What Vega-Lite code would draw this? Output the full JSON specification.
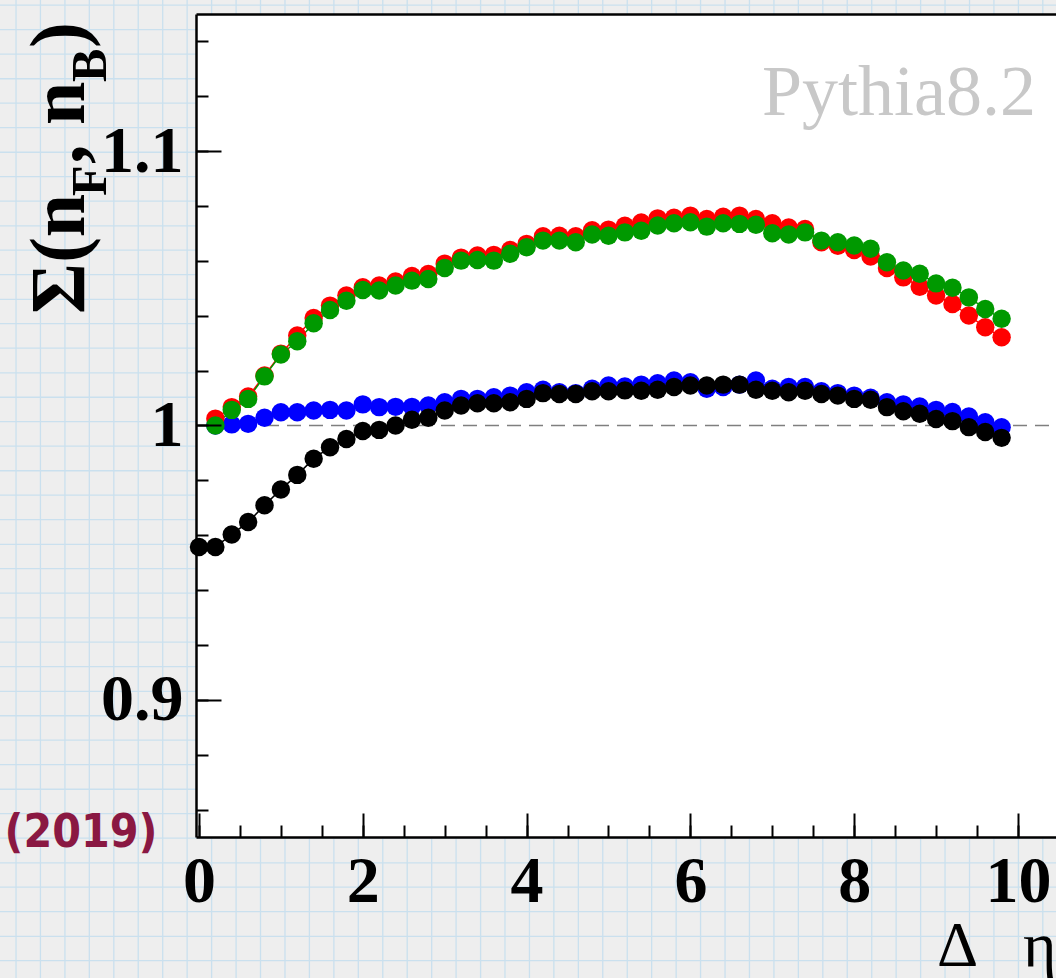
{
  "$schema": "https://vega.github.io/schema/vega-lite/v6.json",
  "width": 860,
  "height": 823,
  "autosize": {"type": "none"},
  "padding": {"left": 196, "top": 14, "right": 0, "bottom": 141},
  "background": "#eeeeee",
  "config": {"view": {"stroke": null}, "axis": {"grid": false}},
  "data": {"values": [{}]},
  "datasets": {
    "vlines": [{"gx":-2.234},{"gx":-1.936},{"gx":-1.637},{"gx":-1.339},{"gx":-1.040},{"gx":-0.742},{"gx":-0.443},{"gx":-0.145},{"gx":0.154},{"gx":0.453},{"gx":0.751},{"gx":1.050},{"gx":1.348},{"gx":1.647},{"gx":1.945},{"gx":2.244},{"gx":2.542},{"gx":2.841},{"gx":3.139},{"gx":3.438},{"gx":3.736},{"gx":4.035},{"gx":4.333},{"gx":4.632},{"gx":4.930},{"gx":5.229},{"gx":5.527},{"gx":5.826},{"gx":6.124},{"gx":6.423},{"gx":6.721},{"gx":7.020},{"gx":7.318},{"gx":7.617},{"gx":7.915},{"gx":8.214},{"gx":8.512},{"gx":8.811},{"gx":9.109},{"gx":9.408},{"gx":9.706},{"gx":10.005},{"gx":10.303}],
    "hlines": [{"gy":1.1532},{"gy":1.1443},{"gy":1.1354},{"gy":1.1264},{"gy":1.1175},{"gy":1.1086},{"gy":1.0996},{"gy":1.0907},{"gy":1.0818},{"gy":1.0728},{"gy":1.0639},{"gy":1.0550},{"gy":1.0460},{"gy":1.0371},{"gy":1.0282},{"gy":1.0192},{"gy":1.0103},{"gy":1.0014},{"gy":0.9925},{"gy":0.9835},{"gy":0.9746},{"gy":0.9657},{"gy":0.9567},{"gy":0.9478},{"gy":0.9389},{"gy":0.9299},{"gy":0.9210},{"gy":0.9121},{"gy":0.9031},{"gy":0.8942},{"gy":0.8853},{"gy":0.8764},{"gy":0.8674},{"gy":0.8585},{"gy":0.8496},{"gy":0.8406},{"gy":0.8317},{"gy":0.8228},{"gy":0.8138},{"gy":0.8049}],
    "obs": [
      {"s":"blue","x":0.2,"v":1.0000},{"s":"blue","x":0.4,"v":1.0004},{"s":"blue","x":0.6,"v":1.0006},{"s":"blue","x":0.8,"v":1.0028},{"s":"blue","x":1.0,"v":1.0048},{"s":"blue","x":1.2,"v":1.0048},{"s":"blue","x":1.4,"v":1.0055},{"s":"blue","x":1.6,"v":1.0057},{"s":"blue","x":1.8,"v":1.0055},{"s":"blue","x":2.0,"v":1.0077},{"s":"blue","x":2.2,"v":1.0067},{"s":"blue","x":2.4,"v":1.0068},{"s":"blue","x":2.6,"v":1.0068},{"s":"blue","x":2.8,"v":1.0073},{"s":"blue","x":3.0,"v":1.0085},{"s":"blue","x":3.2,"v":1.0097},{"s":"blue","x":3.4,"v":1.0097},{"s":"blue","x":3.6,"v":1.0103},{"s":"blue","x":3.8,"v":1.0109},{"s":"blue","x":4.0,"v":1.0121},{"s":"blue","x":4.2,"v":1.0130},{"s":"blue","x":4.4,"v":1.0121},{"s":"blue","x":4.6,"v":1.0118},{"s":"blue","x":4.8,"v":1.0134},{"s":"blue","x":5.0,"v":1.0146},{"s":"blue","x":5.2,"v":1.0142},{"s":"blue","x":5.4,"v":1.0149},{"s":"blue","x":5.6,"v":1.0154},{"s":"blue","x":5.8,"v":1.0164},{"s":"blue","x":6.0,"v":1.0158},{"s":"blue","x":6.2,"v":1.0134},{"s":"blue","x":6.4,"v":1.0140},{"s":"blue","x":6.6,"v":1.0149},{"s":"blue","x":6.8,"v":1.0164},{"s":"blue","x":7.0,"v":1.0134},{"s":"blue","x":7.2,"v":1.0140},{"s":"blue","x":7.4,"v":1.0140},{"s":"blue","x":7.6,"v":1.0125},{"s":"blue","x":7.8,"v":1.0118},{"s":"blue","x":8.0,"v":1.0109},{"s":"blue","x":8.2,"v":1.0101},{"s":"blue","x":8.4,"v":1.0085},{"s":"blue","x":8.6,"v":1.0077},{"s":"blue","x":8.8,"v":1.0069},{"s":"blue","x":9.0,"v":1.0057},{"s":"blue","x":9.2,"v":1.0049},{"s":"blue","x":9.4,"v":1.0033},{"s":"blue","x":9.6,"v":1.0012},{"s":"blue","x":9.8,"v":0.9994},
      {"s":"red","x":0.2,"v":1.0025},{"s":"red","x":0.4,"v":1.0067},{"s":"red","x":0.6,"v":1.0106},{"s":"red","x":0.8,"v":1.0182},{"s":"red","x":1.0,"v":1.0262},{"s":"red","x":1.2,"v":1.0328},{"s":"red","x":1.4,"v":1.0392},{"s":"red","x":1.6,"v":1.0437},{"s":"red","x":1.8,"v":1.0474},{"s":"red","x":2.0,"v":1.0504},{"s":"red","x":2.2,"v":1.0510},{"s":"red","x":2.4,"v":1.0525},{"s":"red","x":2.6,"v":1.0545},{"s":"red","x":2.8,"v":1.0552},{"s":"red","x":3.0,"v":1.0590},{"s":"red","x":3.2,"v":1.0612},{"s":"red","x":3.4,"v":1.0620},{"s":"red","x":3.6,"v":1.0622},{"s":"red","x":3.8,"v":1.0640},{"s":"red","x":4.0,"v":1.0662},{"s":"red","x":4.2,"v":1.0690},{"s":"red","x":4.4,"v":1.0692},{"s":"red","x":4.6,"v":1.0690},{"s":"red","x":4.8,"v":1.0712},{"s":"red","x":5.0,"v":1.0714},{"s":"red","x":5.2,"v":1.0728},{"s":"red","x":5.4,"v":1.0740},{"s":"red","x":5.6,"v":1.0755},{"s":"red","x":5.8,"v":1.0757},{"s":"red","x":6.0,"v":1.0765},{"s":"red","x":6.2,"v":1.0753},{"s":"red","x":6.4,"v":1.0761},{"s":"red","x":6.6,"v":1.0765},{"s":"red","x":6.8,"v":1.0753},{"s":"red","x":7.0,"v":1.0737},{"s":"red","x":7.2,"v":1.0722},{"s":"red","x":7.4,"v":1.0716},{"s":"red","x":7.6,"v":1.0668},{"s":"red","x":7.8,"v":1.0655},{"s":"red","x":8.0,"v":1.0640},{"s":"red","x":8.2,"v":1.0616},{"s":"red","x":8.4,"v":1.0574},{"s":"red","x":8.6,"v":1.0540},{"s":"red","x":8.8,"v":1.0506},{"s":"red","x":9.0,"v":1.0474},{"s":"red","x":9.2,"v":1.0443},{"s":"red","x":9.4,"v":1.0401},{"s":"red","x":9.6,"v":1.0358},{"s":"red","x":9.8,"v":1.0322},
      {"s":"black","x":0.0,"v":0.9557},{"s":"black","x":0.2,"v":0.9557},{"s":"black","x":0.4,"v":0.9603},{"s":"black","x":0.6,"v":0.9648},{"s":"black","x":0.8,"v":0.9709},{"s":"black","x":1.0,"v":0.9767},{"s":"black","x":1.2,"v":0.9820},{"s":"black","x":1.4,"v":0.9879},{"s":"black","x":1.6,"v":0.9921},{"s":"black","x":1.8,"v":0.9951},{"s":"black","x":2.0,"v":0.9980},{"s":"black","x":2.2,"v":0.9984},{"s":"black","x":2.4,"v":1.0000},{"s":"black","x":2.6,"v":1.0021},{"s":"black","x":2.8,"v":1.0028},{"s":"black","x":3.0,"v":1.0055},{"s":"black","x":3.2,"v":1.0073},{"s":"black","x":3.4,"v":1.0081},{"s":"black","x":3.6,"v":1.0081},{"s":"black","x":3.8,"v":1.0085},{"s":"black","x":4.0,"v":1.0097},{"s":"black","x":4.2,"v":1.0118},{"s":"black","x":4.4,"v":1.0115},{"s":"black","x":4.6,"v":1.0115},{"s":"black","x":4.8,"v":1.0125},{"s":"black","x":5.0,"v":1.0125},{"s":"black","x":5.2,"v":1.0128},{"s":"black","x":5.4,"v":1.0127},{"s":"black","x":5.6,"v":1.0130},{"s":"black","x":5.8,"v":1.0140},{"s":"black","x":6.0,"v":1.0146},{"s":"black","x":6.2,"v":1.0146},{"s":"black","x":6.4,"v":1.0149},{"s":"black","x":6.6,"v":1.0149},{"s":"black","x":6.8,"v":1.0130},{"s":"black","x":7.0,"v":1.0127},{"s":"black","x":7.2,"v":1.0121},{"s":"black","x":7.4,"v":1.0127},{"s":"black","x":7.6,"v":1.0115},{"s":"black","x":7.8,"v":1.0109},{"s":"black","x":8.0,"v":1.0097},{"s":"black","x":8.2,"v":1.0094},{"s":"black","x":8.4,"v":1.0067},{"s":"black","x":8.6,"v":1.0052},{"s":"black","x":8.8,"v":1.0043},{"s":"black","x":9.0,"v":1.0024},{"s":"black","x":9.2,"v":1.0016},{"s":"black","x":9.4,"v":0.9994},{"s":"black","x":9.6,"v":0.9976},{"s":"black","x":9.8,"v":0.9955},
      {"s":"green","x":0.2,"v":1.0000},{"s":"green","x":0.4,"v":1.0057},{"s":"green","x":0.6,"v":1.0097},{"s":"green","x":0.8,"v":1.0179},{"s":"green","x":1.0,"v":1.0259},{"s":"green","x":1.2,"v":1.0307},{"s":"green","x":1.4,"v":1.0373},{"s":"green","x":1.6,"v":1.0421},{"s":"green","x":1.8,"v":1.0455},{"s":"green","x":2.0,"v":1.0494},{"s":"green","x":2.2,"v":1.0492},{"s":"green","x":2.4,"v":1.0510},{"s":"green","x":2.6,"v":1.0528},{"s":"green","x":2.8,"v":1.0534},{"s":"green","x":3.0,"v":1.0574},{"s":"green","x":3.2,"v":1.0601},{"s":"green","x":3.4,"v":1.0603},{"s":"green","x":3.6,"v":1.0601},{"s":"green","x":3.8,"v":1.0626},{"s":"green","x":4.0,"v":1.0650},{"s":"green","x":4.2,"v":1.0674},{"s":"green","x":4.4,"v":1.0674},{"s":"green","x":4.6,"v":1.0668},{"s":"green","x":4.8,"v":1.0696},{"s":"green","x":5.0,"v":1.0692},{"s":"green","x":5.2,"v":1.0704},{"s":"green","x":5.4,"v":1.0710},{"s":"green","x":5.6,"v":1.0729},{"s":"green","x":5.8,"v":1.0737},{"s":"green","x":6.0,"v":1.0741},{"s":"green","x":6.2,"v":1.0725},{"s":"green","x":6.4,"v":1.0737},{"s":"green","x":6.6,"v":1.0735},{"s":"green","x":6.8,"v":1.0732},{"s":"green","x":7.0,"v":1.0701},{"s":"green","x":7.2,"v":1.0696},{"s":"green","x":7.4,"v":1.0704},{"s":"green","x":7.6,"v":1.0674},{"s":"green","x":7.8,"v":1.0668},{"s":"green","x":8.0,"v":1.0656},{"s":"green","x":8.2,"v":1.0644},{"s":"green","x":8.4,"v":1.0595},{"s":"green","x":8.6,"v":1.0565},{"s":"green","x":8.8,"v":1.0553},{"s":"green","x":9.0,"v":1.0518},{"s":"green","x":9.2,"v":1.0502},{"s":"green","x":9.4,"v":1.0467},{"s":"green","x":9.6,"v":1.0425},{"s":"green","x":9.8,"v":1.0389}
    ]
  },
  "layer": [
    {
      "data": {"name": "vlines"},
      "mark": {"type": "rule", "color": "#cae0ee", "strokeWidth": 1.3},
      "encoding": {
        "x": {"field": "gx", "type": "quantitative", "axis": null, "scale": {"domain": [-0.0366, 10.464], "nice": false, "zero": false}},
        "y": {"datum": 0.7986, "type": "quantitative", "axis": null, "scale": {"domain": [0.85, 1.15], "nice": false, "zero": false}},
        "y2": {"datum": 1.1551}
      }
    },
    {
      "data": {"name": "hlines"},
      "mark": {"type": "rule", "color": "#cae0ee", "strokeWidth": 1.3},
      "encoding": {
        "y": {"field": "gy", "type": "quantitative", "axis": null, "scale": {"domain": [0.85, 1.15], "nice": false, "zero": false}},
        "x": {"datum": -2.43, "type": "quantitative", "axis": null, "scale": {"domain": [-0.0366, 10.464], "nice": false, "zero": false}},
        "x2": {"datum": 10.47}
      }
    },
    {
      "mark": {"type": "rect", "color": "#ffffff"},
      "encoding": {
        "x": {"datum": -0.0366, "type": "quantitative", "axis": null, "scale": {"domain": [-0.0366, 10.464], "nice": false, "zero": false}},
        "x2": {"datum": 10.464},
        "y": {"datum": 0.85, "type": "quantitative", "axis": null, "scale": {"domain": [0.85, 1.15], "nice": false, "zero": false}},
        "y2": {"datum": 1.15}
      }
    },
    {
      "mark": {"type": "rule", "color": "#7f7f7f", "strokeWidth": 1.5, "strokeDash": [14, 8]},
      "encoding": {
        "x": {"datum": 0, "type": "quantitative", "scale": {"domain": [-0.0366, 10.464], "nice": false, "zero": false},
          "axis": {"orient": "bottom", "values": [0,0.5,1,1.5,2,2.5,3,3.5,4,4.5,5,5.5,6,6.5,7,7.5,8,8.5,9,9.5,10], "tickSize": -12, "tickWidth": 2, "tickColor": "#000000", "labels": false, "domain": false, "title": null, "zindex": 1}},
        "x2": {"datum": 10.464},
        "y": {"datum": 1, "type": "quantitative", "scale": {"domain": [0.85, 1.15], "nice": false, "zero": false},
          "axis": {"orient": "left", "values": [0.86,0.88,0.9,0.92,0.94,0.96,0.98,1,1.02,1.04,1.06,1.08,1.1,1.12,1.14], "tickSize": -12, "tickWidth": 2, "tickColor": "#000000", "labels": false, "domain": false, "title": null, "zindex": 1}}
      }
    },
    {
      "data": {"name": "obs"},
      "mark": {"type": "line", "strokeWidth": 1.5},
      "encoding": {
        "x": {"field": "x", "type": "quantitative", "scale": {"domain": [-0.0366, 10.464], "nice": false, "zero": false},
          "axis": {"orient": "bottom", "values": [0,2,4,6,8,10], "tickSize": -24, "tickWidth": 2, "tickColor": "#000000", "labels": false, "domain": false, "title": null, "zindex": 1}},
        "y": {"field": "v", "type": "quantitative", "scale": {"domain": [0.85, 1.15], "nice": false, "zero": false},
          "axis": {"orient": "left", "values": [0.9,1,1.1], "tickSize": -25, "tickWidth": 2, "tickColor": "#000000", "labels": false, "domain": false, "title": null, "zindex": 1}},
        "color": {"field": "s", "type": "nominal", "legend": null, "scale": {"domain": ["blue","red","black","green"], "range": ["#0000ff","#ff0000","#000000","#009900"]}}
      }
    },
    {
      "data": {"name": "obs"},
      "mark": {"type": "circle", "size": 340, "opacity": 1},
      "encoding": {
        "x": {"field": "x", "type": "quantitative", "scale": {"domain": [-0.0366, 10.464], "nice": false, "zero": false},
          "axis": {"orient": "bottom", "values": [0,2,4,6,8,10], "ticks": false, "domain": true, "domainColor": "#000000", "domainWidth": 2.5,
            "labelFont": "Liberation Serif", "labelFontWeight": "bold", "labelFontSize": 66, "labelColor": "#000000", "labelPadding": 12, "labelFlush": false, "labelOverlap": false, "labelBound": false,
            "title": "Δ\u00a0\u2009\u00a0η", "titleFont": "Liberation Serif", "titleFontWeight": "normal", "titleFontSize": 64, "titleColor": "#000000", "titleAnchor": "end", "titleAlign": "right", "titleBaseline": "alphabetic", "titleX": 860, "titleY": 128, "titleAngle": 0, "zindex": 1}},
        "y": {"field": "v", "type": "quantitative", "scale": {"domain": [0.85, 1.15], "nice": false, "zero": false},
          "axis": {"orient": "left", "values": [0.9,1,1.1], "format": "~g", "ticks": false, "domain": true, "domainColor": "#000000", "domainWidth": 2.5,
            "labelFont": "Liberation Serif", "labelFontWeight": "bold", "labelFontSize": 66, "labelColor": "#000000", "labelPadding": 13, "labelFlush": false, "labelOverlap": false, "labelBound": false, "title": null, "zindex": 1}},
        "color": {"field": "s", "type": "nominal", "legend": null, "scale": {"domain": ["blue","red","black","green"], "range": ["#0000ff","#ff0000","#000000","#009900"]}}
      }
    },
    {
      "mark": {"type": "text", "text": "Pythia8.2", "font": "Liberation Serif", "fontSize": 72, "color": "#c8c8c8", "align": "left", "baseline": "alphabetic"},
      "encoding": {
        "x": {"datum": 6.874, "type": "quantitative", "scale": {"domain": [-0.0366, 10.464], "nice": false, "zero": false},
          "axis": {"orient": "top", "ticks": false, "labels": false, "domain": true, "domainColor": "#000000", "domainWidth": 2.5, "title": null, "zindex": 1}},
        "y": {"datum": 1.1132, "type": "quantitative", "axis": null, "scale": {"domain": [0.85, 1.15], "nice": false, "zero": false}}
      }
    },
    {
      "mark": {"type": "text", "text": "Σ(n", "font": "Liberation Serif", "fontWeight": "bold", "fontSize": 78, "color": "#000000", "align": "left", "baseline": "alphabetic", "angle": 270},
      "encoding": {
        "x": {"datum": -1.404, "type": "quantitative", "axis": null, "scale": {"domain": [-0.0366, 10.464], "nice": false, "zero": false}},
        "y": {"datum": 1.0406, "type": "quantitative", "axis": null, "scale": {"domain": [0.85, 1.15], "nice": false, "zero": false}}
      }
    },
    {
      "mark": {"type": "text", "text": "F", "font": "Liberation Serif", "fontWeight": "bold", "fontSize": 50, "color": "#000000", "align": "left", "baseline": "alphabetic", "angle": 270},
      "encoding": {
        "x": {"datum": -1.136, "type": "quantitative", "axis": null, "scale": {"domain": [-0.0366, 10.464], "nice": false, "zero": false}},
        "y": {"datum": 1.0837, "type": "quantitative", "axis": null, "scale": {"domain": [0.85, 1.15], "nice": false, "zero": false}}
      }
    },
    {
      "mark": {"type": "text", "text": ", n", "font": "Liberation Serif", "fontWeight": "bold", "fontSize": 78, "color": "#000000", "align": "left", "baseline": "alphabetic", "angle": 270},
      "encoding": {
        "x": {"datum": -1.404, "type": "quantitative", "axis": null, "scale": {"domain": [-0.0366, 10.464], "nice": false, "zero": false}},
        "y": {"datum": 1.0953, "type": "quantitative", "axis": null, "scale": {"domain": [0.85, 1.15], "nice": false, "zero": false}}
      }
    },
    {
      "mark": {"type": "text", "text": "B", "font": "Liberation Serif", "fontWeight": "bold", "fontSize": 50, "color": "#000000", "align": "left", "baseline": "alphabetic", "angle": 270},
      "encoding": {
        "x": {"datum": -1.136, "type": "quantitative", "axis": null, "scale": {"domain": [-0.0366, 10.464], "nice": false, "zero": false}},
        "y": {"datum": 1.1252, "type": "quantitative", "axis": null, "scale": {"domain": [0.85, 1.15], "nice": false, "zero": false}}
      }
    },
    {
      "mark": {"type": "text", "text": ")", "font": "Liberation Serif", "fontWeight": "bold", "fontSize": 78, "color": "#000000", "align": "left", "baseline": "alphabetic", "angle": 270},
      "encoding": {
        "x": {"datum": -1.404, "type": "quantitative", "axis": null, "scale": {"domain": [-0.0366, 10.464], "nice": false, "zero": false}},
        "y": {"datum": 1.1376, "type": "quantitative", "axis": null, "scale": {"domain": [0.85, 1.15], "nice": false, "zero": false}}
      }
    },
    {
      "mark": {"type": "text", "text": "(2019)", "font": "DejaVu Sans Condensed, DejaVu Sans", "fontWeight": "bold", "fontSize": 46, "color": "#8a1842", "align": "center", "baseline": "alphabetic"},
      "encoding": {
        "x": {"datum": -1.441, "type": "quantitative", "axis": null, "scale": {"domain": [-0.0366, 10.464], "nice": false, "zero": false}},
        "y": {"datum": 0.8465, "type": "quantitative", "axis": null, "scale": {"domain": [0.85, 1.15], "nice": false, "zero": false}}
      }
    }
  ],
  "resolve": {"axis": {"x": "independent", "y": "independent"}}
}
